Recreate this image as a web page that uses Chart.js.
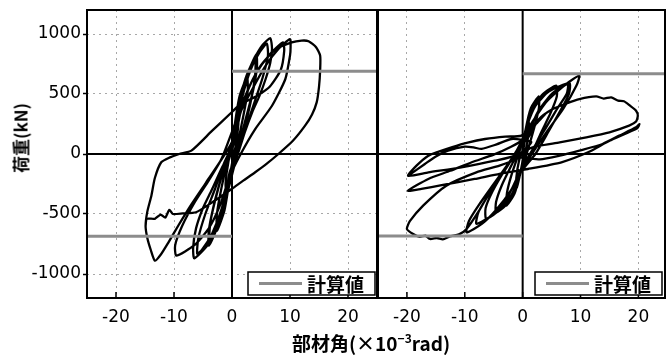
<!DOCTYPE html>
<html>
<head>
<meta charset="utf-8">
<script src="https://cdn.jsdelivr.net/npm/chart.js@4"></script>
<style>
  html, body { margin: 0; padding: 0; background: #fff; overflow: hidden; width: 666px; height: 359px; }
  #wrap { position: relative; width: 666px; height: 359px; }
  canvas { position: absolute; top: 0; }
  #ylab { position: absolute; left: 20px; top: 138px; transform: translate(-50%, -50%) rotate(-90deg);
          font: bold 17px "Noto Sans CJK JP"; white-space: nowrap; color: #000; }
  #xlab { position: absolute; left: 371px; top: 342px; transform: translate(-50%, -50%);
          font: bold 19px "Noto Sans CJK JP"; white-space: nowrap; color: #000; }
  #xlab sup { font-size: 12px; }
</style>
</head>
<body>
<div id="wrap">
  <canvas id="left" width="380" height="332" style="left:0"></canvas>
  <canvas id="right" width="290" height="332" style="left:376px"></canvas>
  <div id="ylab">荷重(kN)</div>
  <div id="xlab">部材角(×10<sup>−3</sup>rad)</div>
</div>
<script>
// tick values
const xTicks = [-20, -10, 0, 10, 20];
const yTicks = [-1000, -500, 0, 500, 1000];

// calculated strength (upper, lower) for each specimen
const calcLeft = [690, -685];
const calcRight = [668, -683];
const legendLabel = "計算値";

// left specimen: load history cycle by cycle, [angle, load]
const leftCycle1 = [[0,0],[0.5,200],[1.0,330],[1.1,250],[0.6,60],[0,-80],[-0.5,-220],[-1.0,-330],[-1.1,-240],[-0.6,-60],[0,40]];
const leftCycle2 = [[0.5,250],[1.3,480],[2.6,640],[2.7,520],[1.8,280],[0.7,20],[-0.5,-250],[-1.3,-470],[-2.6,-640],[-2.6,-500],[-1.8,-280],[-0.6,-20]];
const leftCycle3 = [[0.4,150],[1.2,420],[2.6,660],[4.2,830],[4.3,720],[3.6,520],[2.4,300],[1.0,40],[-0.4,-180],[-1.2,-420],[-2.6,-620],[-4.0,-764],[-4.0,-640],[-3.2,-440],[-2.0,-220],[-0.6,0]];
const leftCycle4 = [[0.4,180],[1.5,480],[3.0,700],[4.0,790],[4.0,660],[3.2,430],[1.8,150],[0.4,-100],[-1.0,-360],[-2.4,-580],[-3.9,-720],[-3.7,-560],[-2.6,-330],[-1.2,-100]];
const leftCycle5 = [[0.4,100],[1.2,400],[2.3,625],[3.8,790],[5.3,910],[6.6,965],[6.9,875],[6.6,760],[5.8,625],[4.7,480],[3.5,350],[2.2,180],[1.0,0],[-0.4,-150],[-1.2,-400],[-2.5,-600],[-4.2,-760],[-6.5,-870],[-6.7,-780],[-6.2,-620],[-5,-450],[-3.5,-300],[-1.8,-120],[-0.5,0]];
const leftCycle6 = [[0.6,200],[1.8,480],[3.2,700],[4.8,850],[6.0,920],[6.2,820],[5.3,640],[4.0,450],[2.4,220],[0.8,0],[-0.6,-220],[-1.8,-460],[-3.4,-660],[-5.2,-800],[-6.0,-830],[-5.8,-700],[-4.6,-500],[-3.0,-300],[-1.4,-80]];
const leftCycle7 = [[0.5,120],[1.5,350],[3.5,540],[5.8,736],[8.0,875],[10.0,958],[10.1,890],[10,820],[9.2,625],[6.9,402],[4,208],[1.5,0],[-0.5,-200],[-2,-420],[-4,-620],[-6.5,-760],[-9.6,-847],[-9.8,-760],[-8.6,-600],[-6.4,-400],[-4,-220],[-1.8,-40]];
const leftCycle8 = [[0.5,250],[2.0,450],[4.0,660],[6.5,830],[8.8,930],[9.0,860],[8.4,700],[6.5,560],[4.5,490],[2.5,440],[1.5,420],[0,350],[-3.5,190],[-7,28],[-9.1,0],[-10.8,-30],[-12.2,-69],[-13.3,-200],[-13.9,-347],[-14.6,-480],[-14.9,-600],[-14.6,-700],[-14.0,-800],[-13.3,-889],[-12.3,-840],[-11,-740],[-9.3,-600],[-7,-420],[-4.5,-240],[-2,-60],[0,100]];
const leftCycle9 = [[1.5,360],[3.0,560],[5.0,740],[7.5,870],[10.3,930],[12,945],[13.2,940],[14.5,890],[15.2,820],[15.2,700],[15.0,560],[14.6,430],[13.8,330],[12.6,236],[10.5,110],[8,0],[6,-80],[4,-152],[2,-220],[0,-290],[-3,-390],[-6.2,-485],[-8.5,-495],[-10.2,-500],[-10.8,-465],[-11.5,-530],[-12.3,-505],[-13.3,-540],[-14.7,-540],[-14.9,-600]];

// right specimen
const rightCycle1 = [[0,0],[0.5,150],[1.0,280],[1.1,200],[0.6,50],[0,-60],[-0.5,-180],[-1.0,-280],[-1.1,-200],[-0.6,-50],[0,30]];
const rightCycle2 = [[0.5,200],[1.4,380],[2.8,480],[2.8,380],[2.0,220],[0.8,20],[-0.5,-180],[-1.4,-330],[-2.8,-430],[-2.7,-320],[-1.9,-170],[-0.7,0]];
const rightCycle3 = [[0.5,180],[1.5,360],[3.5,500],[5.8,570],[5.9,480],[4.8,340],[3.2,180],[1.5,0],[-0.5,-170],[-1.5,-330],[-3.0,-430],[-4.6,-490],[-4.6,-400],[-3.6,-260],[-2.0,-100],[-0.5,40]];
const rightCycle4 = [[0.7,230],[2.2,400],[4.5,520],[8.1,590],[8.0,500],[6.5,360],[4.5,190],[2.2,0],[-0.3,-150],[-1.8,-330],[-3.8,-460],[-6.3,-540],[-6.4,-450],[-5.2,-310],[-3.2,-140],[-1.0,30]];
const rightCycle5 = [[0.8,200],[2.4,320],[4.0,430],[5.8,514],[8.0,600],[9.8,653],[9.3,570],[7,375],[4.1,180],[2,30],[0,-120],[-2,-300],[-4.5,-460],[-7,-580],[-9.7,-653],[-9.3,-560],[-7.5,-420],[-5,-250],[-2.5,-80]];
const rightCycle6 = [[0.5,120],[2.5,340],[5,500],[7.8,583],[7.6,500],[6,380],[3.8,200],[1.5,20],[-0.5,-150],[-2.5,-350],[-5,-500],[-8,-583],[-7.6,-480],[-5.5,-310],[-3,-130],[-1,20]];
const rightCycle7 = [[1,140],[2.8,290],[5.2,375],[7.5,420],[9.8,458],[12.7,480],[14,462],[15.3,472],[16.5,445],[17.5,440],[18.5,405],[19.6,361],[19.9,319],[19.6,270],[18.4,236],[15,181],[11,139],[6.4,97],[2.9,69],[1,40],[-1,-40],[-4,-97],[-8,-153],[-13.2,-264],[-17.2,-430],[-19.5,-560],[-20,-625],[-19,-665],[-17.8,-690],[-16.8,-680],[-16,-708],[-14.8,-700],[-13.8,-712],[-12.6,-686],[-11,-670],[-9.7,-625],[-7.5,-470],[-5.7,-320],[-3.5,-160],[-1.5,-30]];
const rightCycle8 = [[3,-45],[6.4,-14],[9.8,28],[13.8,83],[16.7,153],[19.6,222],[20.2,250],[19.8,215],[15,110],[11.3,14],[6.7,-69],[0.9,-125],[-4,-165],[-8.3,-208],[-14,-260],[-17.5,-290],[-19.8,-306],[-16.3,-208],[-12.5,-140],[-8.8,-69],[-5,-5],[-2,60],[0,120]];
const rightCycle9 = [[2,250],[4,340],[2.5,260],[-0.2,153],[-3,145],[-6.5,125],[-9.5,95],[-12.3,56],[-14.5,20],[-16.3,-14],[-18.3,-95],[-19.8,-181],[-16.3,-153],[-10.6,-111],[-4.8,-56],[-0.7,-3],[1.5,100],[-1.9,125],[-4.5,80],[-7.1,42],[-8.5,55],[-10,61],[-12.9,28],[-15,-20],[-16.9,-83],[-19.8,-181]];

const leftPath = [].concat(leftCycle1, leftCycle2, leftCycle3, leftCycle4, leftCycle5, leftCycle6, leftCycle7, leftCycle8, leftCycle9);
const rightPath = [].concat(rightCycle1, rightCycle2, rightCycle3, rightCycle4, rightCycle5, rightCycle6, rightCycle7, rightCycle8, rightCycle9);

const toPoints = arr => arr.map(([x, y]) => ({ x, y }));

Chart.defaults.font.family = "'DejaVu Sans', sans-serif";
Chart.defaults.font.size = 17;
Chart.defaults.color = "#000";

// zero lines, inward ticks, legend box and frame
const axesPlugin = {
  id: "axesLines",
  beforeDatasetsDraw(chart) {
    const { ctx, chartArea: a, scales: { x, y } } = chart;
    ctx.save();
    ctx.strokeStyle = "#000";
    ctx.lineWidth = 2;
    ctx.beginPath();
    const x0 = x.getPixelForValue(0), y0 = y.getPixelForValue(0);
    ctx.moveTo(x0, a.top); ctx.lineTo(x0, a.bottom);
    ctx.moveTo(a.left, y0); ctx.lineTo(a.right, y0);
    ctx.stroke();
    ctx.lineWidth = 1.5;
    ctx.beginPath();
    xTicks.forEach(v => {
      const px = x.getPixelForValue(v);
      ctx.moveTo(px, a.bottom); ctx.lineTo(px, a.bottom - 6);
    });
    ctx.stroke();
    ctx.restore();
  },
  afterDatasetsDraw(chart, args, opts) {
    const { ctx, chartArea: a } = chart;
    const w = 127, h = 23;
    const left = a.right - w - opts.inset, top = a.bottom - h - 3;
    ctx.save();
    ctx.fillStyle = "#fff";
    ctx.fillRect(left, top, w, h);
    ctx.strokeStyle = "#000";
    ctx.lineWidth = 1.5;
    ctx.strokeRect(left, top, w, h);
    ctx.strokeStyle = "#8c8c8c";
    ctx.lineWidth = 3;
    ctx.beginPath();
    ctx.moveTo(left + 11, top + h / 2);
    ctx.lineTo(left + 54, top + h / 2);
    ctx.stroke();
    ctx.fillStyle = "#000";
    ctx.font = "bold 19px 'Noto Sans CJK JP'";
    ctx.textBaseline = "middle";
    ctx.textAlign = "left";
    ctx.fillText(legendLabel, left + 59, top + h / 2 + 1);
    ctx.restore();
  },
  afterDraw(chart) {
    const { ctx, chartArea: a } = chart;
    ctx.save();
    ctx.strokeStyle = "#000";
    ctx.lineWidth = 2;
    ctx.strokeRect(a.left, a.top, a.right - a.left, a.bottom - a.top);
    ctx.restore();
  }
};

function makeChart(id, path, calc, opts) {
  return new Chart(document.getElementById(id), {
    type: "scatter",
    data: {
      datasets: [
        {
          data: toPoints(path),
          showLine: true,
          borderColor: "#000",
          borderWidth: 2.3,
          pointRadius: 0,
          tension: 0.2,
          order: 2
        },
        {
          data: [{ x: 0, y: calc[0] }, { x: 25, y: calc[0] }],
          showLine: true,
          borderColor: "#8c8c8c",
          borderWidth: 3,
          pointRadius: 0,
          order: 1
        },
        {
          data: [{ x: -25, y: calc[1] }, { x: 0, y: calc[1] }],
          showLine: true,
          borderColor: "#8c8c8c",
          borderWidth: 3,
          pointRadius: 0,
          order: 1
        }
      ]
    },
    options: {
      responsive: false,
      animation: false,
      layout: { padding: opts.padding },
      plugins: {
        legend: { display: false },
        tooltip: { enabled: false },
        axesLines: { inset: opts.inset }
      },
      scales: {
        x: {
          type: "linear",
          min: -25,
          max: opts.xMax,
          afterBuildTicks: s => { s.ticks = xTicks.map(v => ({ value: v })); },
          afterFit: s => { s.height = 34; s.paddingLeft = 0; s.paddingRight = 0; },
          grid: { color: "#a8a8a8", lineWidth: 1, drawTicks: false },
          border: { display: false, dash: [2, 4] },
          ticks: { padding: 9, callback: v => v }
        },
        y: {
          type: "linear",
          display: opts.showY,
          min: -1200,
          max: 1200,
          afterBuildTicks: s => { s.ticks = yTicks.map(v => ({ value: v })); },
          afterFit: s => { s.width = opts.showY ? 87 : 0; s.paddingTop = 0; s.paddingBottom = 0; },
          grid: { color: "#a8a8a8", lineWidth: 1, drawTicks: true, tickLength: 4, tickColor: "#000", tickWidth: 1.5 },
          border: { display: false, dash: [2, 4] },
          ticks: { padding: 2, callback: v => v }
        }
      }
    },
    plugins: [axesPlugin]
  });
}

makeChart("left", leftPath, calcLeft, { padding: { top: 10, right: 3, left: 0, bottom: 0 }, showY: true, xMax: 25, inset: 2 });
makeChart("right", rightPath, calcRight, { padding: { top: 10, right: 1, left: 2, bottom: 0 }, showY: false, xMax: 24.6, inset: 3 });
</script>
</body>
</html>
